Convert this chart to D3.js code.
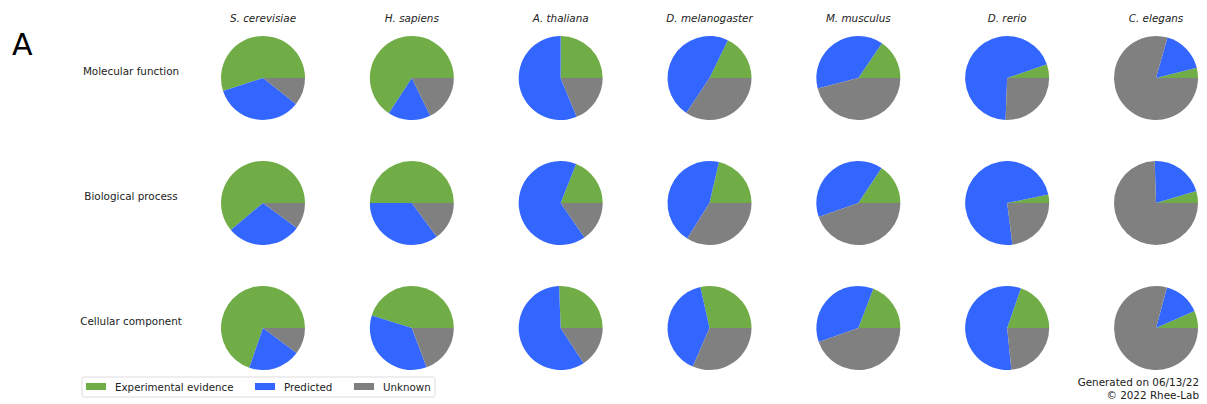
<!DOCTYPE html>
<html>
<head>
<meta charset="utf-8">
<script src="https://cdn.jsdelivr.net/npm/d3@7"></script>
<style>
  body { margin: 0; background: #fff; }
  svg text { font-family: "DejaVu Sans", sans-serif; fill: #222; }
</style>
</head>
<body>
<div id="chart"></div>
<script>
(function () {

    // species across the top, GO aspects down the side
    var species = ["S. cerevisiae", "H. sapiens", "A. thaliana", "D. melanogaster", "M. musculus", "D. rerio", "C. elegans"];
    var aspects = ["Molecular function", "Biological process", "Cellular component"];
    var categories = ["Experimental evidence", "Predicted", "Unknown"];

    // fractions per aspect, one entry per species: [experimental, predicted, unknown]
    var molecularFunction = [
        [0.55, 0.344, 0.106],
        [0.658, 0.164, 0.178],
        [0.25, 0.562, 0.188],
        [0.178, 0.479, 0.343],
        [0.155, 0.385, 0.46],
        [0.053, 0.691, 0.256],
        [0.039, 0.167, 0.794]
    ];
    var biologicalProcess = [
        [0.611, 0.288, 0.101],
        [0.5, 0.351, 0.149],
        [0.19, 0.656, 0.154],
        [0.214, 0.447, 0.339],
        [0.157, 0.397, 0.446],
        [0.032, 0.738, 0.23],
        [0.046, 0.209, 0.745]
    ];
    var cellularComponent = [
        [0.697, 0.201, 0.102],
        [0.452, 0.355, 0.193],
        [0.256, 0.586, 0.158],
        [0.285, 0.4, 0.315],
        [0.192, 0.362, 0.446],
        [0.197, 0.569, 0.234],
        [0.066, 0.142, 0.792]
    ];
    var values = [molecularFunction, biologicalProcess, cellularComponent];

    var width = 1207, height = 404;
    var radius = 42;

    var color = d3.scaleOrdinal()
        .domain(categories)
        .range(["#70ad47", "#3366ff", "#808080"]);

    var x = d3.scalePoint().domain(species).range([263, 1156]);
    var y = d3.scalePoint().domain(aspects).range([78, 328]);

    // matplotlib style: start at 3 o'clock, go counter-clockwise
    var pie = d3.pie()
        .sort(null)
        .startAngle(Math.PI / 2)
        .endAngle(Math.PI / 2 - 2 * Math.PI)
        .value(function (d) { return d.v; });

    var arc = d3.arc().innerRadius(0).outerRadius(radius);

    var svg = d3.select("#chart").append("svg")
        .attr("width", width)
        .attr("height", height);

    svg.append("text")
        .attr("x", 12)
        .attr("y", 55)
        .style("font-size", "30px")
        .style("fill", "#000")
        .text("A");

    svg.selectAll(".colTitle")
        .data(species)
        .enter().append("text")
        .attr("class", "colTitle")
        .attr("x", function (d) { return x(d); })
        .attr("y", 22)
        .attr("text-anchor", "middle")
        .style("font-size", "10.4px")
        .style("font-style", "italic")
        .text(function (d) { return d; });

    svg.selectAll(".rowTitle")
        .data(aspects)
        .enter().append("text")
        .attr("class", "rowTitle")
        .attr("x", 131)
        .attr("y", function (d) { return y(d) - 3; })
        .attr("text-anchor", "middle")
        .style("font-size", "10.4px")
        .text(function (d) { return d; });

    aspects.forEach(function (a, i) {
        species.forEach(function (s, j) {
            var slices = categories.map(function (c, k) {
                return { cat: c, v: values[i][j][k] };
            });
            var g = svg.append("g")
                .attr("transform", "translate(" + x(s) + "," + y(a) + ")");
            g.selectAll("path")
                .data(pie(slices))
                .enter().append("path")
                .attr("d", arc)
                .attr("fill", function (d) { return color(d.data.cat); });
        });
    });

    // legend
    var legend = svg.append("g").attr("transform", "translate(82,377)");
    legend.append("rect")
        .attr("width", 353)
        .attr("height", 20)
        .attr("rx", 2)
        .attr("fill", "#fff")
        .attr("stroke", "#dddddd");
    var legendX = [4, 173, 272];
    var item = legend.selectAll(".item")
        .data(categories)
        .enter().append("g")
        .attr("class", "item")
        .attr("transform", function (d, i) { return "translate(" + legendX[i] + ",0)"; });
    item.append("rect")
        .attr("y", 6)
        .attr("width", 20)
        .attr("height", 7)
        .attr("fill", function (d) { return color(d); });
    item.append("text")
        .attr("x", 29)
        .attr("y", 14)
        .style("font-size", "10.3px")
        .text(function (d) { return d; });

    svg.append("text")
        .attr("x", 1199)
        .attr("y", 386)
        .attr("text-anchor", "end")
        .style("font-size", "10.4px")
        .text("Generated on 06/13/22");
    svg.append("text")
        .attr("x", 1199)
        .attr("y", 399)
        .attr("text-anchor", "end")
        .style("font-size", "10.4px")
        .text("\u00a9 2022 Rhee-Lab");
})();
</script>
</body>
</html>
